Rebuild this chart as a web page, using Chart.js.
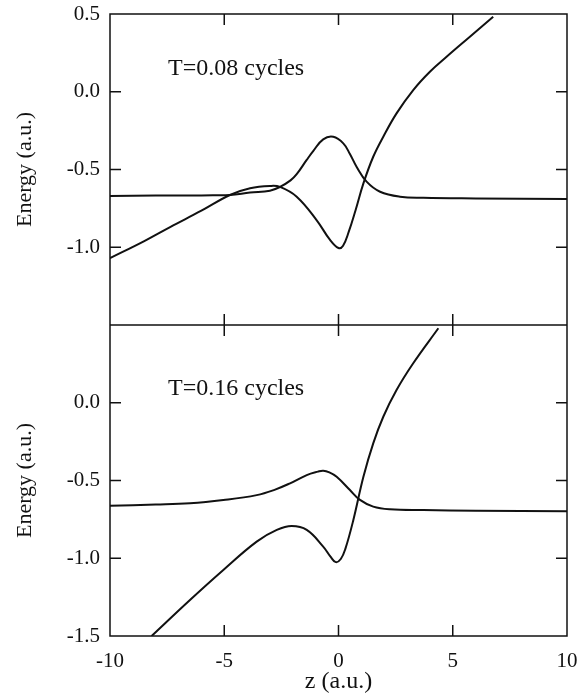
<!DOCTYPE html>
<html>
<head>
<meta charset="utf-8">
<script src="https://cdn.jsdelivr.net/npm/chart.js@4.4.1/dist/chart.umd.min.js"></script>
<style>
  body { margin: 0; background: #fff; }
  #wrap { position: absolute; left: 0; top: 0; width: 586px; height: 696px; }
</style>
</head>
<body>
<div id="wrap"><canvas id="chart" width="586" height="696"></canvas></div>
<script>
(function(){
    'use strict';

    // x axis
    const zTicks = [-10, -5, 0, 5, 10];
    const energyTicks = [0.5, 0.0, -0.5, -1.0, -1.5];

    // top panel, T=0.08 cycles
    const zTopRise = [-10, -8.5, -7.37, -6, -4.75, -3.87, -3.0, -2.56, -1.83, -0.96, -0.37, 0, 0.2, 0.45, 0.75, 1.09, 1.52, 1.96, 2.54, 3.27, 4.0, 4.73, 5.75, 6.77];
    const eTopRise = [-1.07, -0.96, -0.87, -0.765, -0.664, -0.621, -0.606, -0.612, -0.675, -0.825, -0.953, -1.005, -0.99, -0.9, -0.76, -0.589, -0.418, -0.289, -0.139, 0.011, 0.129, 0.225, 0.354, 0.483];
    const zTopFlat = [-10, -8, -6.5, -5.5, -4.75, -3.87, -3.0, -2.56, -2.1, -1.83, -1.4, -1.1, -0.67, -0.23, 0.21, 0.5, 0.79, 1.23, 1.82, 2.69, 3.71, 6, 10];
    const eTopFlat = [-0.67, -0.668, -0.667, -0.666, -0.664, -0.648, -0.636, -0.612, -0.57, -0.53, -0.44, -0.38, -0.306, -0.29, -0.332, -0.40, -0.482, -0.578, -0.643, -0.675, -0.682, -0.686, -0.69];

    // bottom panel, T=0.16 cycles
    const zBotRise = [-8.18, -6.5, -5.04, -3.58, -2.7, -2.05, -1.39, -0.67, -0.35, -0.12, 0.1, 0.3, 0.65, 1.09, 1.52, 1.96, 2.54, 3.27, 4.37];
    const eBotRise = [-1.5, -1.268, -1.075, -0.893, -0.818, -0.793, -0.818, -0.925, -0.99, -1.025, -1.005, -0.94, -0.754, -0.476, -0.261, -0.09, 0.082, 0.254, 0.479];
    const zBotFlat = [-10, -8, -6.5, -5.04, -3.58, -2.8, -2.12, -1.39, -0.9, -0.67, -0.4, -0.08, 0.5, 0.94, 1.52, 2.25, 3.71, 6, 10];
    const eBotFlat = [-0.662, -0.655, -0.647, -0.626, -0.594, -0.56, -0.518, -0.465, -0.443, -0.437, -0.448, -0.476, -0.561, -0.625, -0.668, -0.685, -0.69, -0.694, -0.698];

    const panelLabels = ['T=0.08 cycles', 'T=0.16 cycles'];

    const ink = '#111';
    const serif = '"Liberation Serif", "DejaVu Serif", serif';

    function pts(xs, ys){
        return xs.map(function(x, i){ return {x: x, y: ys[i]}; });
    }

    function curve(xs, ys, axisId){
        return {
            data: pts(xs, ys),
            yAxisID: axisId,
            borderColor: ink,
            borderWidth: 2,
            pointRadius: 0,
            fill: false,
            tension: 0.4
        };
    }

    // frame, inward ticks and panel labels
    const framePlugin = {
        id: 'frame',
        afterDatasetsDraw(chart){
            const ctx = chart.ctx;
            const a = chart.chartArea;
            const xs = chart.scales.x;
            const yt = chart.scales.yTop;
            const yb = chart.scales.yBottom;
            const mid = yt.bottom;
            const tl = 11;

            ctx.save();
            ctx.strokeStyle = ink;
            ctx.lineWidth = 1.5;
            ctx.strokeRect(a.left, a.top, a.right - a.left, a.bottom - a.top);
            ctx.beginPath();
            ctx.moveTo(a.left, mid);
            ctx.lineTo(a.right, mid);

            zTicks.slice(1, -1).forEach(function(v){
                const px = xs.getPixelForValue(v);
                ctx.moveTo(px, a.top); ctx.lineTo(px, a.top + tl);
                ctx.moveTo(px, mid - tl); ctx.lineTo(px, mid + tl);
                ctx.moveTo(px, a.bottom); ctx.lineTo(px, a.bottom - tl);
            });

            [yt, yb].forEach(function(sc){
                energyTicks.slice(1, -1).forEach(function(v){
                    const py = sc.getPixelForValue(v);
                    ctx.moveTo(a.left, py); ctx.lineTo(a.left + tl, py);
                    ctx.moveTo(a.right, py); ctx.lineTo(a.right - tl, py);
                });
            });
            ctx.stroke();

            ctx.fillStyle = ink;
            ctx.font = '24px ' + serif;
            ctx.textBaseline = 'alphabetic';
            ctx.textAlign = 'left';
            ctx.fillText(panelLabels[0], xs.getPixelForValue(-7.46), yt.getPixelForValue(0.108));
            ctx.fillText(panelLabels[1], xs.getPixelForValue(-7.46), yb.getPixelForValue(0.05));
            ctx.restore();
        }
    };

    function yAxis(hideValue){
        return {
            type: 'linear',
            position: 'left',
            stack: 'panels',
            stackWeight: 1,
            min: -1.5,
            max: 0.5,
            afterFit(scale){
                scale.width = 110;
                scale.paddingTop = 0;
                scale.paddingBottom = 0;
            },
            afterBuildTicks(scale){
                scale.ticks = energyTicks.map(function(v){ return {value: v}; });
            },
            ticks: {
                padding: 10,
                color: ink,
                font: {family: serif, size: 21},
                callback(v){ return v === hideValue ? '' : Number(v).toFixed(1); }
            },
            grid: {display: false, drawTicks: false},
            border: {display: false},
            title: {
                display: true,
                text: 'Energy (a.u.)',
                color: ink,
                font: {family: serif, size: 22},
                padding: {top: 12, bottom: 0}
            }
        };
    }

    new Chart(document.querySelector('#chart'), {
        type: 'line',
        data: {
            datasets: [
                curve(zTopRise, eTopRise, 'yTop'),
                curve(zTopFlat, eTopFlat, 'yTop'),
                curve(zBotRise, eBotRise, 'yBottom'),
                curve(zBotFlat, eBotFlat, 'yBottom')
            ]
        },
        options: {
            responsive: false,
            animation: false,
            layout: {padding: {top: 14, right: 19, left: 0, bottom: 0}},
            plugins: {legend: {display: false}, tooltip: {enabled: false}},
            scales: {
                x: {
                    type: 'linear',
                    min: -10,
                    max: 10,
                    afterFit(scale){
                        scale.height = 60;
                        scale.paddingLeft = 0;
                        scale.paddingRight = 0;
                    },
                    afterBuildTicks(scale){
                        scale.ticks = zTicks.map(function(v){ return {value: v}; });
                    },
                    ticks: {
                        padding: 13,
                        color: ink,
                        maxRotation: 0,
                        font: {family: serif, size: 21}
                    },
                    grid: {display: false, drawTicks: false},
                    border: {display: false},
                    title: {
                        display: true,
                        text: 'z (a.u.)',
                        color: ink,
                        font: {family: serif, size: 24},
                        padding: {top: 0, bottom: 0}
                    }
                },
                yBottom: yAxis(0.5),
                yTop: yAxis(-1.5)
            }
        },
        plugins: [framePlugin]
    });
})();
</script>
</body>
</html>
